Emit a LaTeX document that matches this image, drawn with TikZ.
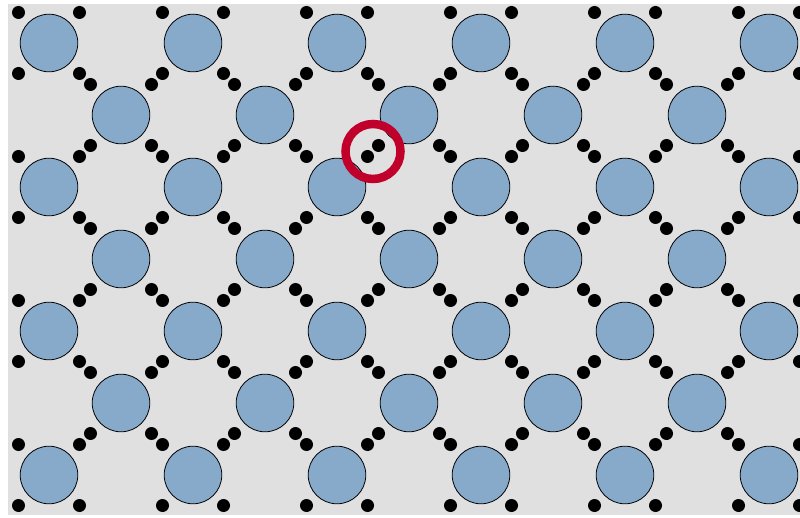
\documentclass[tikz,border=0pt]{standalone}
\definecolor{bgc}{RGB}{224,224,224}
\definecolor{bluec}{RGB}{135,170,203}
\definecolor{redc}{RGB}{192,0,42}
\begin{document}
\begin{tikzpicture}[x=1pt,y=-1pt,
  site/.style={circle,draw=black,line width=0.8pt,fill=bluec,minimum size=57.6pt,inner sep=0pt},
  elec/.style={circle,fill=black,minimum size=13pt,inner sep=0pt},
  marker/.style={circle,draw=redc,line width=8.5pt,minimum size=55pt,inner sep=0pt}]
\useasboundingbox (0,0) rectangle (800,518);
\fill[bgc] (8,4) rectangle (800,515);
\begin{scope}
\clip (8,4) rectangle (800,515);
\foreach \r in {0,...,6}{
  \pgfmathtruncatemacro{\odd}{mod(\r,2)}
  \pgfmathtruncatemacro{\ncol}{5-\odd}
  \foreach \c in {0,...,\ncol}{
    \pgfmathsetmacro{\cx}{49+72*\odd+144*\c}
    \pgfmathsetmacro{\cy}{43+72*\r}
    \node[site] (c-\r-\c) at (\cx,\cy) {};
    \node[elec] (d-\r-\c-nw) at (\cx-30.5,\cy-30.5) {};
    \node[elec] (d-\r-\c-ne) at (\cx+30.5,\cy-30.5) {};
    \node[elec] (d-\r-\c-sw) at (\cx-30.5,\cy+30.5) {};
    \node[elec] (d-\r-\c-se) at (\cx+30.5,\cy+30.5) {};
  }
}
\end{scope}
\node[marker] (mark) at (373,151.5) {};
\end{tikzpicture}
\end{document}
